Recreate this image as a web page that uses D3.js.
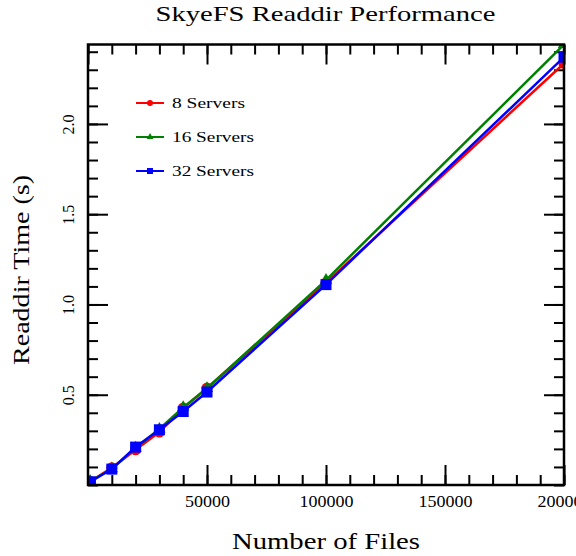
<!DOCTYPE html>
<html><head><meta charset="utf-8">
<script src="https://cdn.jsdelivr.net/npm/d3@7"></script>
<style>body{margin:0;background:#fff}svg{display:block}</style>
</head><body>
<svg id="c" width="576" height="556"></svg>
<script>
const files = [1000, 10000, 20000, 30000, 40000, 50000, 100000, 200000];
const servers8 = [0.02, 0.095, 0.195, 0.293, 0.426, 0.537, 1.12, 2.335];
const servers16 = [0.02, 0.09, 0.205, 0.31, 0.43, 0.535, 1.135, 2.44];
const servers32 = [0.018, 0.088, 0.21, 0.306, 0.407, 0.515, 1.11, 2.37];
const seriesNames = ["8 Servers", "16 Servers", "32 Servers"];
const seriesColors = ["#ff0000", "#008000", "#0000ff"];
const seriesMarkers = ["circle", "triangle", "square"];
const xTickValues = [50000, 100000, 150000, 200000];
const yTickValues = [0.5, 1.0, 1.5, 2.0];
const titleText = "SkyeFS Readdir Performance";
const xLabel = "Number of Files";
const yLabel = "Readdir Time (s)";

const FONT = "'Liberation Serif', 'DejaVu Serif', serif";
const L = 88, R = 564, T = 44.5, B = 485;
const svg = d3.select("#c");
const x = d3.scaleLinear().domain([0, 200000]).range([L, R]);
const y = d3.scaleLinear().domain([0, 2.44]).range([B, T]);

svg.append("defs").append("clipPath").attr("id", "clip")
  .append("rect").attr("x", L).attr("y", T).attr("width", R - L).attr("height", B - T);

// title
svg.append("text").attr("x", 325.5).attr("y", 21).attr("text-anchor", "middle")
  .attr("textLength", 340).attr("lengthAdjust", "spacingAndGlyphs")
  .attr("font-family", FONT).attr("font-size", 22).attr("fill", "#000").text(titleText);

// axes
const xMinor = d3.range(0, 200001, 10000);
const yMinor = d3.range(0, 2.44, 0.1);
function styleAxis(g) {
  g.select(".domain").remove();
  g.selectAll(".tick line").attr("stroke", "#000").attr("stroke-width", 2);
  g.selectAll("text").attr("font-family", FONT).attr("font-size", 16).attr("fill", "#000");
}
svg.append("g").attr("transform", `translate(0,${B})`)
  .call(d3.axisBottom(x).tickValues(xMinor).tickSize(-10).tickFormat("")).call(styleAxis);
svg.append("g").attr("transform", `translate(0,${B})`)
  .call(d3.axisBottom(x).tickValues(xTickValues).tickSize(-20).tickPadding(10).tickFormat(d3.format("d"))).call(styleAxis)
  .selectAll("text").attr("dy", "0.71em").attr("y", 11)
  .attr("textLength", d => String(d).length * 9).attr("lengthAdjust", "spacingAndGlyphs");
svg.append("g").attr("transform", `translate(0,${T})`)
  .call(d3.axisTop(x).tickValues(xMinor).tickSize(-10).tickFormat("")).call(styleAxis);
svg.append("g").attr("transform", `translate(0,${T})`)
  .call(d3.axisTop(x).tickValues(xTickValues.concat([0])).tickSize(-20).tickFormat("")).call(styleAxis);
svg.append("g").attr("transform", `translate(${L},0)`)
  .call(d3.axisLeft(y).tickValues(yMinor).tickSize(-10).tickFormat("")).call(styleAxis);
const yMaj = svg.append("g").attr("transform", `translate(${L},0)`)
  .call(d3.axisLeft(y).tickValues(yTickValues).tickSize(-20).tickFormat(d3.format(".1f"))).call(styleAxis);
yMaj.selectAll("text").attr("x", null).attr("dy", null)
  .attr("text-anchor", "middle").attr("dominant-baseline", "central")
  .attr("transform", "translate(-20,0) rotate(-90)");
svg.append("g").attr("transform", `translate(${R},0)`)
  .call(d3.axisRight(y).tickValues(yMinor).tickSize(-10).tickFormat("")).call(styleAxis);
svg.append("g").attr("transform", `translate(${R},0)`)
  .call(d3.axisRight(y).tickValues(yTickValues).tickSize(-20).tickFormat("")).call(styleAxis);

// axis labels
svg.append("text").attr("x", 326).attr("y", 549).attr("text-anchor", "middle")
  .attr("textLength", 188).attr("lengthAdjust", "spacingAndGlyphs")
  .attr("font-family", FONT).attr("font-size", 24).attr("fill", "#000").text(xLabel);
svg.append("text").attr("transform", "translate(29,270) rotate(-90)").attr("text-anchor", "middle")
  .attr("textLength", 190).attr("lengthAdjust", "spacingAndGlyphs")
  .attr("font-family", FONT).attr("font-size", 24).attr("fill", "#000").text(yLabel);

// series
const allSeries = [servers8, servers16, servers32];
const plot = svg.append("g").attr("clip-path", "url(#clip)");
const line = d3.line().x((d, i) => x(files[i])).y(d => y(d));
function marker(sel, type, size, color) {
  if (type === "circle") sel.append("circle").attr("r", size / 2).attr("fill", color);
  else if (type === "square") sel.append("rect").attr("x", -size / 2).attr("y", -size / 2)
    .attr("width", size).attr("height", size).attr("fill", color);
  else sel.append("path").attr("d", d3.symbol(d3.symbolTriangle, size * size * 0.55)()).attr("fill", color);
}
allSeries.forEach((vals, si) => {
  const g = plot.append("g");
  g.append("path").datum(vals).attr("d", line).attr("fill", "none")
    .attr("stroke", seriesColors[si]).attr("stroke-width", 2.5);
  vals.forEach((v, i) => {
    const m = g.append("g").attr("transform", `translate(${x(files[i])},${y(v)})`);
    marker(m, seriesMarkers[si], 11, seriesColors[si]);
  });
});

// frame
svg.append("rect").attr("x", L).attr("y", T).attr("width", R - L).attr("height", B - T)
  .attr("fill", "none").attr("stroke", "#000").attr("stroke-width", 2.5);

// legend
const legendWidths = [73, 82, 82];
seriesNames.forEach((name, i) => {
  const ly = 103 + i * 34;
  const g = svg.append("g");
  g.append("line").attr("x1", 136).attr("x2", 164).attr("y1", ly).attr("y2", ly)
    .attr("stroke", seriesColors[i]).attr("stroke-width", 2);
  const m = g.append("g").attr("transform", `translate(150,${ly})`);
  marker(m, seriesMarkers[i], 6, seriesColors[i]);
  g.append("text").attr("x", 172).attr("y", ly + 5).attr("font-family", FONT)
    .attr("textLength", legendWidths[i]).attr("lengthAdjust", "spacingAndGlyphs")
    .attr("font-size", 15).attr("fill", "#000").text(name);
});
</script>
</body></html>
